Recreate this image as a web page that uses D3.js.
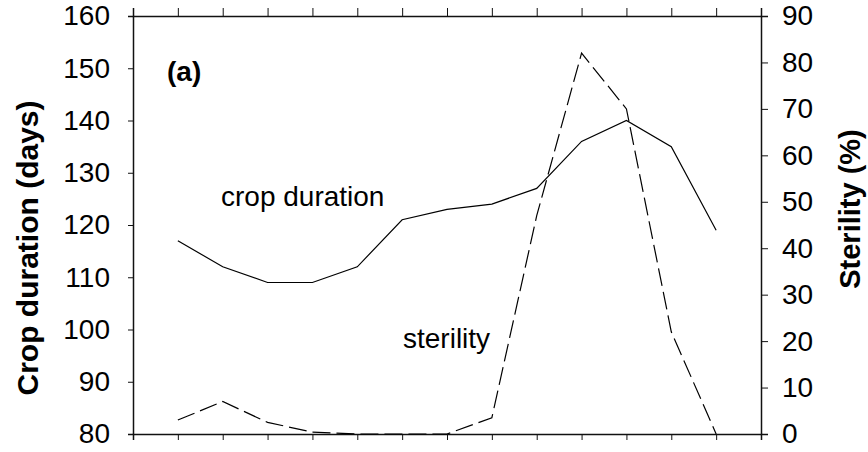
<!DOCTYPE html>
<html lang="en">
<head>
  <meta charset="UTF-8" />
  <title>Crop duration and sterility</title>
  <script src="https://cdn.jsdelivr.net/npm/d3@7/dist/d3.min.js"></script>
  <style>
    body { margin: 0; background: #fff; }
    svg { display: block; font-family: "Liberation Sans", Arial, sans-serif; }
  </style>
</head>
<body>
  <svg width="868" height="452"></svg>

  <script>
    // data
    const positions = [1, 2, 3, 4, 5, 6, 7, 8, 9, 10, 11, 12, 13];
    const cropDuration = [117, 112, 109, 109, 112, 121, 123, 124, 127, 136, 140, 135, 119];
    const sterility = [3, 7, 2.5, 0.4, 0, 0, 0, 3.5, 47, 82, 70, 22, 0];
    const leftTicks = [80, 90, 100, 110, 120, 130, 140, 150, 160];
    const rightTicks = [0, 10, 20, 30, 40, 50, 60, 70, 80, 90];

    const svg = d3.select('svg');
    const width = +svg.attr('width');
    const height = +svg.attr('height');
    const margin = { top: 16, right: 107, bottom: 18, left: 133 };

    const x = d3.scaleLinear().domain([0, 14]).range([margin.left, width - margin.right]);
    const yLeft = d3.scaleLinear().domain([80, 160]).range([height - margin.bottom, margin.top]);
    const yRight = d3.scaleLinear().domain([0, 90]).range([height - margin.bottom, margin.top]);

    const fontSize = 28;

    // axes
    const axisLeft = svg.append('g')
      .attr('transform', `translate(${margin.left},0)`)
      .call(d3.axisLeft(yLeft).tickValues(leftTicks).tickSize(5).tickPadding(18));

    const axisRight = svg.append('g')
      .attr('transform', `translate(${width - margin.right},0)`)
      .call(d3.axisRight(yRight).tickValues(rightTicks).tickSize(7).tickPadding(14));

    const axisTop = svg.append('g')
      .attr('transform', `translate(0,${margin.top})`)
      .call(d3.axisTop(x).tickValues(positions).tickSize(8).tickFormat(''));

    const axisBottom = svg.append('g')
      .attr('transform', `translate(0,${height - margin.bottom})`)
      .call(d3.axisBottom(x).tickValues(positions).tickSize(6).tickFormat(''));

    [axisLeft, axisRight, axisTop, axisBottom].forEach((g) => {
      g.select('.domain').attr('stroke', '#111').attr('stroke-width', 1.5);
      g.selectAll('.tick line').attr('stroke', '#111').attr('stroke-width', 1);
      g.selectAll('.tick text')
        .attr('fill', '#000')
        .style('font-size', fontSize + 'px')
        .style('font-family', '"Liberation Sans", Arial, sans-serif');
    });

    // lines
    const cropLine = d3.line()
      .x((d, i) => x(positions[i]))
      .y((d) => yLeft(d));

    const sterLine = d3.line()
      .x((d, i) => x(positions[i]))
      .y((d) => yRight(d));

    svg.append('path')
      .datum(cropDuration)
      .attr('fill', 'none')
      .attr('stroke', '#000')
      .attr('stroke-width', 1.2)
      .attr('d', cropLine);

    svg.append('path')
      .datum(sterility)
      .attr('fill', 'none')
      .attr('stroke', '#000')
      .attr('stroke-width', 1.2)
      .attr('stroke-dasharray', '18,6')
      .attr('d', sterLine);

    // axis titles
    svg.append('text')
      .attr('transform', `translate(38,248) rotate(-90)`)
      .attr('text-anchor', 'middle')
      .style('font-size', '30px')
      .style('font-weight', 'bold')
      .text('Crop duration (days)');

    svg.append('text')
      .attr('transform', `translate(860,209) rotate(-90)`)
      .attr('text-anchor', 'middle')
      .style('font-size', '29px')
      .style('font-weight', 'bold')
      .text('Sterility (%)');

    // annotations
    svg.append('text')
      .attr('x', 167).attr('y', 81)
      .style('font-size', '28px')
      .style('font-weight', 'bold')
      .text('(a)');

    svg.append('text')
      .attr('x', 221).attr('y', 206)
      .style('font-size', fontSize + 'px')
      .text('crop duration');

    svg.append('text')
      .attr('x', 403).attr('y', 348)
      .style('font-size', fontSize + 'px')
      .text('sterility');
  </script>
</body>
</html>
